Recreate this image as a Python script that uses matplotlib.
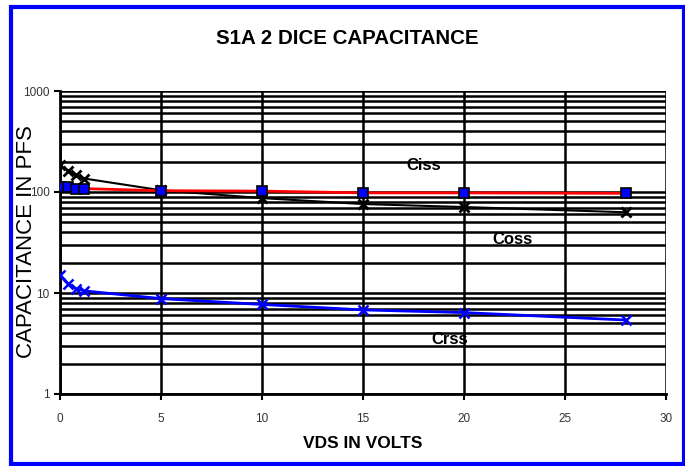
import numpy as np
import matplotlib.pyplot as plt
from matplotlib.patches import Rectangle
from matplotlib.ticker import LogLocator, FixedLocator, NullFormatter

vds = [0, 0.4, 0.8, 1.2, 5, 10, 15, 20, 28]
ciss = [112, 112, 108, 108, 103, 102, 98, 98, 97]
coss = [183, 163, 146, 136, 104, 87, 76, 71, 63]
crss = [15.0, 12.4, 11.0, 10.5, 8.8, 7.7, 6.8, 6.4, 5.4]

plt.rcParams['font.family'] = 'Liberation Sans'

fig = plt.figure(figsize=(6.85, 4.66), dpi=100)
ax = fig.add_axes([60/685, 1-394/466, (666-60)/685, (394-91)/466])

ax.plot(vds, ciss, color='red', lw=2, marker='s', ms=7.5, mfc='blue', mec='black', mew=1.2, zorder=5)
ax.plot(vds, coss, color='black', lw=1.5, marker='x', ms=7, mew=2, zorder=4)
ax.plot(vds, crss, color='blue', lw=2, marker='x', ms=7, mew=1.8, zorder=4)

ax.set_yscale('log')
ax.set_xlim(0, 30)
ax.set_ylim(1, 1000)
ax.xaxis.set_major_locator(FixedLocator([0, 5, 10, 15, 20, 25, 30]))
ax.yaxis.set_major_locator(FixedLocator([1, 10, 100, 1000]))
ax.yaxis.set_major_formatter(plt.FuncFormatter(lambda v, p: '%d' % v))
ax.yaxis.set_minor_locator(LogLocator(base=10, subs=np.arange(2, 10)))
ax.yaxis.set_minor_formatter(NullFormatter())
ax.tick_params(axis='y', which='minor', length=0)
ax.tick_params(axis='both', which='major', length=4, width=1.5, colors='black',
               labelcolor='#333333', labelsize=8.5, direction='out')
ax.tick_params(axis='x', pad=10)
ax.grid(True, which='both', axis='y', color='black', lw=1.8)
ax.grid(True, which='major', axis='x', color='black', lw=1.8)
for s in ['left', 'bottom']:
    ax.spines[s].set_linewidth(2)
for s in ['top', 'right']:
    ax.spines[s].set_visible(False)

# curve labels
ax.text(18.0, 182, 'Ciss', fontsize=12, ha='center', va='center', fontweight='bold')
ax.text(22.4, 33.5, 'Coss', fontsize=12, ha='center', va='center', fontweight='bold')
ax.text(19.3, 3.5, 'Crss', fontsize=12, ha='center', va='center', fontweight='bold')

fig.text(347/685, 1-38/466, 'S1A 2 DICE CAPACITANCE', fontsize=14.8, fontweight='bold',
         ha='center', va='center')
fig.text(363/685, 1-443/466, 'VDS IN VOLTS', fontsize=12.5, fontweight='bold',
         ha='center', va='center')
fig.text(27/685, 1-242/466, 'CAPACITANCE IN PFS', fontsize=16, rotation=90,
         ha='center', va='center')

fig.patches.append(Rectangle((11/685, 2.5/466), 672.5/685, 456.5/466,
                             transform=fig.transFigure, fill=False, edgecolor='blue', lw=3))

fig.savefig('out.png', dpi=100)
